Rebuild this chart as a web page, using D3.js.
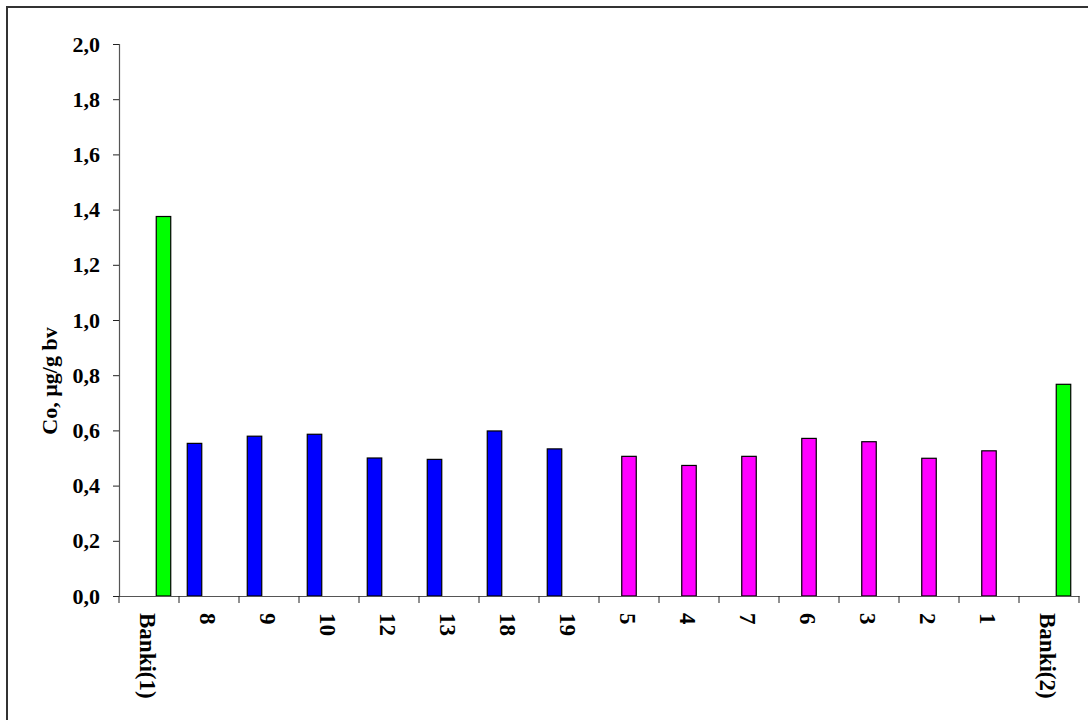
<!DOCTYPE html>
<html>
<head>
<meta charset="utf-8">
<script src="https://cdn.jsdelivr.net/npm/d3@7"></script>
<style>
  html, body { margin: 0; padding: 0; background: #fff; }
  svg { display: block; }
  text { font-family: "Liberation Serif", "Times New Roman", serif; font-weight: bold; fill: #000; }
</style>
</head>
<body>
<svg id="chart" width="1088" height="720"></svg>
<script>
// ---- data ----
const categories = ["Banki(1)", "8", "9", "10", "12", "13", "18", "19", "5", "4", "7", "6", "3", "2", "1", "Banki(2)"];
const values = [1.375, 0.553, 0.579, 0.586, 0.500, 0.495, 0.598, 0.533, 0.506, 0.473, 0.506, 0.571, 0.559, 0.499, 0.526, 0.767];
const groups = ["green", "blue", "blue", "blue", "blue", "blue", "blue", "blue", "magenta", "magenta", "magenta", "magenta", "magenta", "magenta", "magenta", "green"];
const seriesNames = ["blue", "magenta", "green"];
const seriesColors = ["#0000FF", "#FF00FF", "#00FF00"];
const yTicks = [0, 0.2, 0.4, 0.6, 0.8, 1.0, 1.2, 1.4, 1.6, 1.8, 2.0];
const yTitle = "Co, µg/g bv";

(function () {
const rows = categories.map((c, i) => ({ cat: c, value: values[i], series: groups[i] }));

// ---- layout ----
const svg = d3.select("#chart");
const mLeft = 119, mRight = 1079, mTop = 44, mBottom = 596;

// outer frame (cropped at right/bottom like reference)
svg.append("rect")
  .attr("x", 7).attr("y", 7).attr("width", 1100).attr("height", 740)
  .attr("fill", "none").attr("stroke", "#333").attr("stroke-width", 2);

const x = d3.scaleBand().domain(categories).range([mLeft, mRight]).paddingInner(0).paddingOuter(0);
const xs = d3.scaleBand().domain(seriesNames).range([0, x.bandwidth()]).paddingInner(0).paddingOuter(0.57);
const y = d3.scaleLinear().domain([0, 2]).range([mBottom, mTop]);
const color = d3.scaleOrdinal().domain(seriesNames).range(seriesColors);

// bars
svg.append("g").selectAll("rect")
  .data(rows)
  .join("rect")
  .attr("x", d => x(d.cat) + xs(d.series))
  .attr("y", d => y(d.value))
  .attr("width", xs.bandwidth())
  .attr("height", d => y(0) - y(d.value))
  .attr("fill", d => color(d.series))
  .attr("stroke", "#000")
  .attr("stroke-width", 1.2);

// y axis
const fmt = d => d3.format(".1f")(d).replace(".", ",");
const yAxis = svg.append("g")
  .attr("transform", `translate(${mLeft},0)`)
  .call(d3.axisLeft(y).tickValues(yTicks).tickFormat(fmt).tickSize(6).tickPadding(13));
yAxis.select(".domain").attr("stroke", "#555").attr("stroke-width", 1.2);
yAxis.selectAll(".tick line").attr("stroke", "#222");
yAxis.selectAll(".tick text")
  .style("font-family", "'Liberation Serif', 'Times New Roman', serif")
  .style("font-weight", "bold").style("font-size", "22px").attr("fill", "#000");

// x axis
const xAxis = svg.append("g")
  .attr("transform", `translate(0,${mBottom})`)
  .call(d3.axisBottom(x).tickSize(0).tickFormat(""));
xAxis.select(".domain").attr("stroke", "#555").attr("stroke-width", 1.2);
xAxis.selectAll(".tick").remove();

// tick marks at category boundaries
const bounds = categories.map(c => x(c)).concat([mRight]);
svg.append("g").selectAll("line")
  .data(bounds)
  .join("line")
  .attr("x1", d => d).attr("x2", d => d)
  .attr("y1", mBottom).attr("y2", mBottom + 7)
  .attr("stroke", "#222").attr("stroke-width", 1);

// category labels (rotated 90 deg clockwise)
svg.append("g").selectAll("text")
  .data(categories)
  .join("text")
  .attr("transform", d => `translate(${x(d) + x.bandwidth() / 2 - 2},${mBottom + 17}) rotate(90)`)
  .attr("text-anchor", "start")
  .attr("dominant-baseline", "central")
  .style("font-size", "23px")
  .text(d => d);

// y title
svg.append("text")
  .attr("transform", `translate(49,381) rotate(-90)`)
  .attr("text-anchor", "middle")
  .attr("dominant-baseline", "central")
  .style("font-size", "22px")
  .text(yTitle);
})();
</script>
</body>
</html>
